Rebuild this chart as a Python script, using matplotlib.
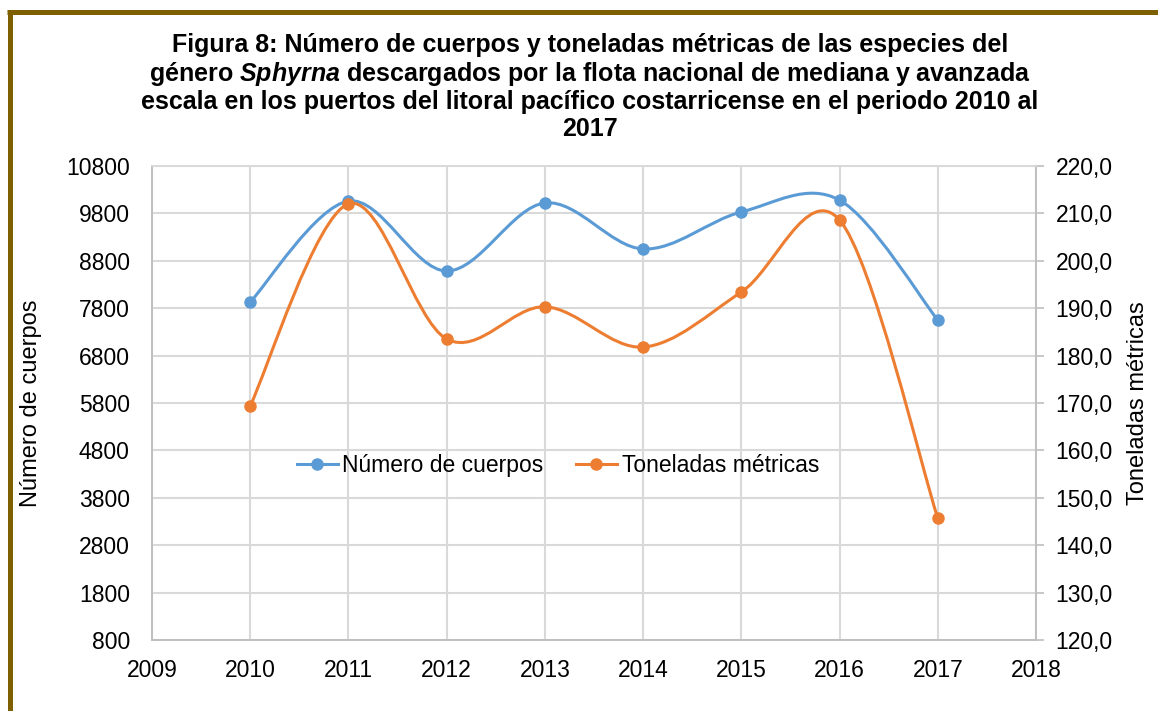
import numpy as np
import matplotlib
matplotlib.use("Agg")
import matplotlib.pyplot as plt
from matplotlib.path import Path
from matplotlib.patches import PathPatch
from matplotlib.lines import Line2D
from matplotlib.ticker import FuncFormatter

plt.rcParams['font.family'] = ['Liberation Sans', 'DejaVu Sans']
plt.rcParams['mathtext.fontset'] = 'custom'
plt.rcParams['mathtext.it'] = 'Liberation Sans:italic:bold'
plt.rcParams['mathtext.rm'] = 'Liberation Sans:bold'

# datos
years = [2010, 2011, 2012, 2013, 2014, 2015, 2016, 2017]
cuerpos = [7930, 10060, 8585, 10020, 9050, 9830, 10080, 7550]
toneladas = [169.4, 212.0, 183.5, 190.3, 181.8, 193.4, 208.6, 145.7]

azul = '#5B9BD5'
naranja = '#ED7D31'
grid_c = '#D9D9D9'
spine_c = '#BFBFBF'


def curva_suave(x, y):
    # Bezier tipo Catmull-Rom (como el suavizado de Excel)
    x = np.asarray(x, float)
    y = np.asarray(y, float)
    n = len(x)
    verts = [(x[0], y[0])]
    codes = [Path.MOVETO]
    for i in range(n - 1):
        i0 = max(i - 1, 0)
        i3 = min(i + 2, n - 1)
        c1 = (x[i] + (x[i + 1] - x[i0]) / 6, y[i] + (y[i + 1] - y[i0]) / 6)
        c2 = (x[i + 1] - (x[i3] - x[i]) / 6, y[i + 1] - (y[i3] - y[i]) / 6)
        verts += [c1, c2, (x[i + 1], y[i + 1])]
        codes += [Path.CURVE4] * 3
    return Path(verts, codes)


fig = plt.figure(figsize=(11.58, 7.11), dpi=100)
ax = fig.add_axes([152 / 1158, 1 - 640 / 711, 884 / 1158, 474 / 711])
ax2 = ax.twinx()

ax.set_xlim(2009, 2018)
ax.set_ylim(800, 10800)
ax2.set_ylim(120, 220)
ax.set_xticks(range(2009, 2019))
ax.set_yticks(range(800, 10801, 1000))
ax2.set_yticks(range(120, 221, 10))
ax2.yaxis.set_major_formatter(FuncFormatter(lambda v, p: f"{v:.1f}".replace('.', ',')))

ax.grid(True, color=grid_c, linewidth=1.5)
for a in (ax, ax2):
    for s in a.spines.values():
        s.set_color(spine_c)
        s.set_linewidth(1.2)
    a.spines['top'].set_color(grid_c)

ax.tick_params(axis='both', length=0, labelsize=16.5, colors='#000000')
ax.tick_params(axis='y', pad=16)
ax.tick_params(axis='x', pad=14)
ax2.tick_params(axis='y', length=6, width=1.2, color=spine_c, labelsize=16.5, pad=8)

# lineas suavizadas
ax.add_patch(PathPatch(curva_suave(years, cuerpos), facecolor='none',
                       edgecolor=azul, linewidth=2.2, zorder=3))
ax2.add_patch(PathPatch(curva_suave(years, toneladas), facecolor='none',
                        edgecolor=naranja, linewidth=2.2, zorder=3))
ax.plot(years, cuerpos, 'o', color=azul, markersize=8, zorder=4)
ax2.plot(years, toneladas, 'o', color=naranja, markersize=8, zorder=4)

ax.set_ylabel('Número de cuerpos', fontsize=17, labelpad=17)
ax2.set_ylabel('Toneladas métricas', fontsize=17, labelpad=10)

h1 = Line2D([], [], color=azul, marker='o', linewidth=2.2, markersize=8)
h2 = Line2D([], [], color=naranja, marker='o', linewidth=2.2, markersize=8)
ax2.legend([h1, h2], ['Número de cuerpos', 'Toneladas métricas'],
           loc='center', bbox_to_anchor=(0.459, 0.369), ncol=2, frameon=False,
           fontsize=16.5, handlelength=1.8, handletextpad=0.2, columnspacing=1.4)

titulo = ("Figura 8: Número de cuerpos y toneladas métricas de las especies del\n"
          "género $\\mathit{Sphyrna}$ descargados por la flota nacional de mediana y avanzada\n"
          "escala en los puertos del litoral pacífico costarricense en el periodo 2010 al\n"
          "2017")
fig.text(590 / 1158, 1 - 33 / 711, titulo, ha='center', va='top', fontsize=18,
         fontweight='bold', linespacing=1.13)

# marco marron
borde = '#7F6000'
fig.add_artist(Line2D([9.5 / 1158, 9.5 / 1158], [0, 1 - 12 / 711], color=borde,
                      linewidth=3.6, transform=fig.transFigure, solid_capstyle='butt'))
fig.add_artist(Line2D([7 / 1158, 1], [1 - 12 / 711, 1 - 12 / 711], color=borde,
                      linewidth=3.6, transform=fig.transFigure, solid_capstyle='butt'))

fig.savefig('out.png', dpi=100)
